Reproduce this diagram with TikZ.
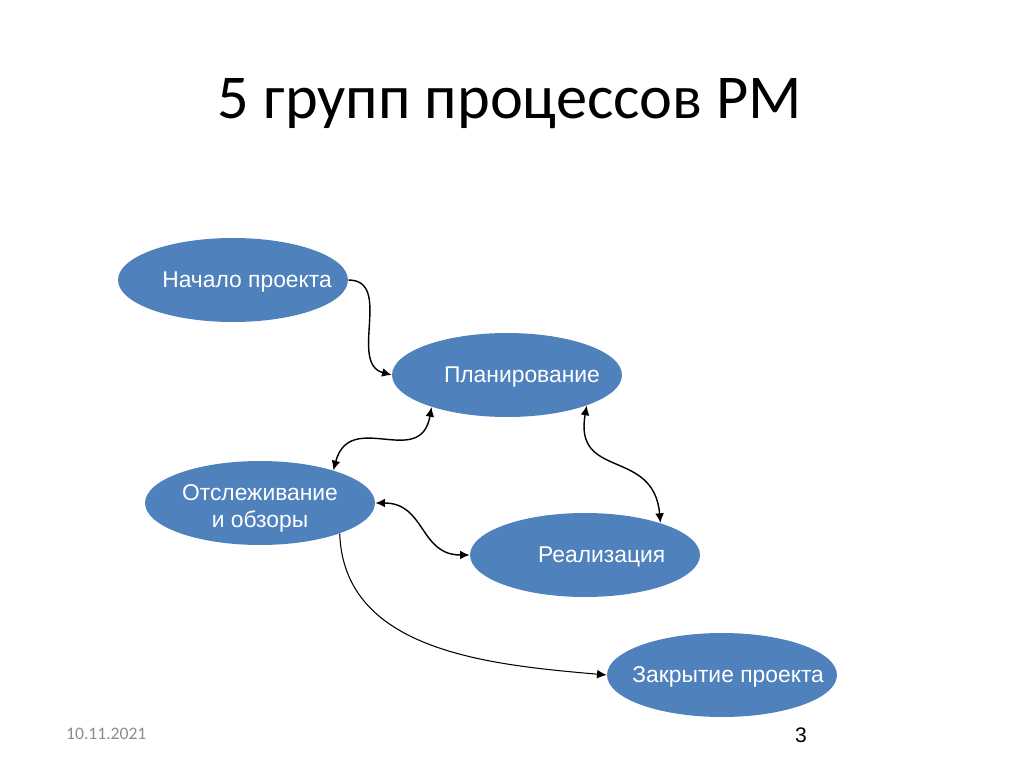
\documentclass[tikz,border=0pt]{standalone}
\usepackage{fontspec}
\setmainfont{Carlito}
\newfontfamily\arialfont{Liberation Sans}
\usetikzlibrary{shapes.geometric,arrows.meta}

\begin{document}
\begin{tikzpicture}[x=0.02cm,y=-0.02cm,
  proc/.style={ellipse,fill=procblue,inner sep=0,minimum width=4.6cm,minimum height=1.68cm},
  proclbl/.style={text=white,font=\arialfont\fontsize{13}{15}\selectfont,align=center},
  link/.style={line width=0.8pt,-{Latex[length=5.5pt,width=5pt]}},
  twoway/.style={line width=0.8pt,{Latex[length=5.5pt,width=5pt]}-{Latex[length=5.5pt,width=5pt]}}]
\definecolor{procblue}{HTML}{4F81BD}
\definecolor{dategray}{HTML}{8C8C8C}
\useasboundingbox (0,0) rectangle (1024,767);
\node[anchor=base] (title) at (510,118) {\fontsize{35.5}{42}\selectfont 5 групп процессов PM};
  \foreach \nm/\x/\y/\dx/\dy/\txt in {start/233/280/8/-1/{Начало проекта},plan/507/375/8.5/-1/Планирование,
      mon/260/503/0/-3/{Отслеживание\\и обзоры},exec/585/555/9.5/-1/Реализация,close/722/675/3.5/-1/{Закрытие проекта}}
  {  \node [proc,label={[proclbl,xshift=\dx,yshift=\dy]center:\txt}] (\nm) at (\x,\y) {};}
\draw[link] (start.east) to[out=0,in=165,looseness=1.1] (plan.west);
\draw[twoway] (plan.-157) to[out=-100,in=75,looseness=1.4] (mon.24);
\draw[twoway] (plan.-21) to[out=-100,in=95,looseness=1.4] (exec.23);
\draw[twoway] (mon.east) to[out=0,in=180,looseness=1.2] (exec.west);
\draw[link,line width=0.6pt] (mon.-21) to[out=-88,in=175] (close.west);
\node[anchor=base west,text=dategray,font=\fontsize{10}{12}\selectfont] (date) at (60,739) {10.11.2021};
\node[anchor=base,font=\arialfont\fontsize{12}{14}\selectfont] (page) at (801,742) {3};
\end{tikzpicture}
\end{document}
